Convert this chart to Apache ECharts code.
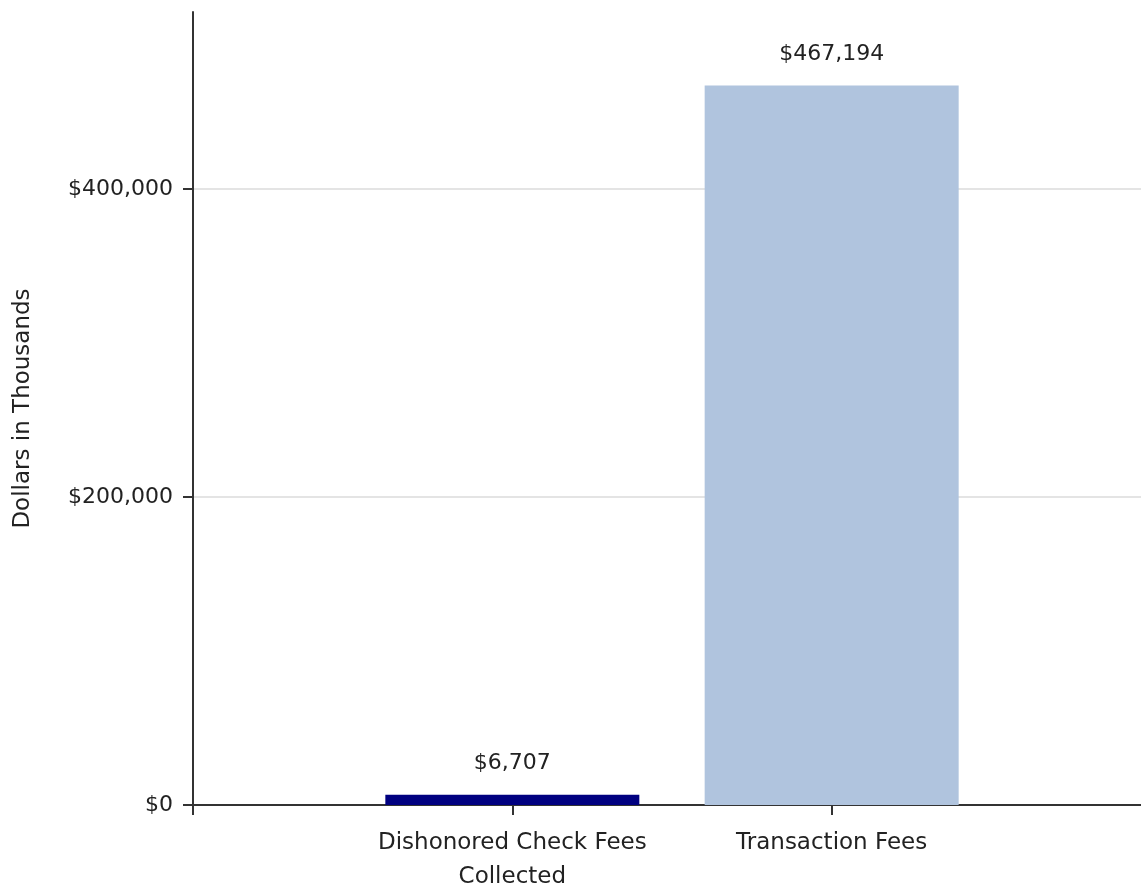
<!DOCTYPE html>
<html>
<head>
<meta charset="utf-8">
<title>Fees</title>
<script src="https://cdn.jsdelivr.net/npm/echarts@6/dist/echarts.min.js"></script>
<style>
  html, body { margin: 0; padding: 0; background: #fff; }
  #main { width: 1141px; height: 890px; }
</style>
</head>
<body>
<div id="main"></div>
<script>
// categories (empty slots at both ends give the half-gap seen in the original)
var categories = ['', 'Dishonored Check Fees\nCollected', 'Transaction Fees', ''];
// values in thousands of dollars
var values = [null, 6707, 467194, null];
var barColors = ['#000080', '#000080', '#B0C4DE', '#B0C4DE'];
// y ticks
var yTicks = [0, 200000, 400000];
var yMax = 515000;

function money(v) {
  return '$' + Number(v).toLocaleString('en-US');
}

var font = 'DejaVu Sans';
var chart = echarts.init(document.getElementById('main'));

chart.setOption({
  animation: false,
  backgroundColor: '#fff',
  grid: { left: 193, width: 958, top: 12, bottom: 85, outerBoundsMode: 'none', containLabel: false },
  xAxis: {
    type: 'category',
    data: categories,
    boundaryGap: false,
    axisLine: { lineStyle: { color: '#333', width: 2 } },
    axisTick: { show: true, length: 10, interval: 0, lineStyle: { color: '#333', width: 2 } },
    axisLabel: {
      interval: 0,
      margin: 21,
      color: '#222',
      fontFamily: font,
      fontSize: 23,
      lineHeight: 34
    },
    splitLine: { show: false }
  },
  yAxis: {
    type: 'value',
    min: 0,
    max: yMax,
    name: 'Dollars in Thousands',
    nameLocation: 'middle',
    nameRotate: 90,
    nameGap: 158,
    nameTextStyle: { color: '#222', fontFamily: font, fontSize: 23 },
    axisLine: { show: true, lineStyle: { color: '#333', width: 2 } },
    axisTick: { show: true, length: 10, customValues: yTicks, lineStyle: { color: '#333', width: 2 } },
    axisLabel: {
      customValues: yTicks,
      margin: 20,
      color: '#222',
      fontFamily: font,
      fontSize: 22,
      formatter: function (v) { return money(v); }
    },
    splitLine: { show: true, lineStyle: { color: '#e4e4e4', width: 2 } }
  },
  series: [{
    type: 'bar',
    data: values.map(function (v, i) {
      return { value: v, itemStyle: { color: barColors[i] } };
    }),
    barWidth: 254,
    label: {
      show: true,
      position: 'top',
      distance: 20,
      color: '#222',
      fontFamily: font,
      fontSize: 22,
      formatter: function (p) { return money(p.value); }
    }
  }]
});
</script>
</body>
</html>
